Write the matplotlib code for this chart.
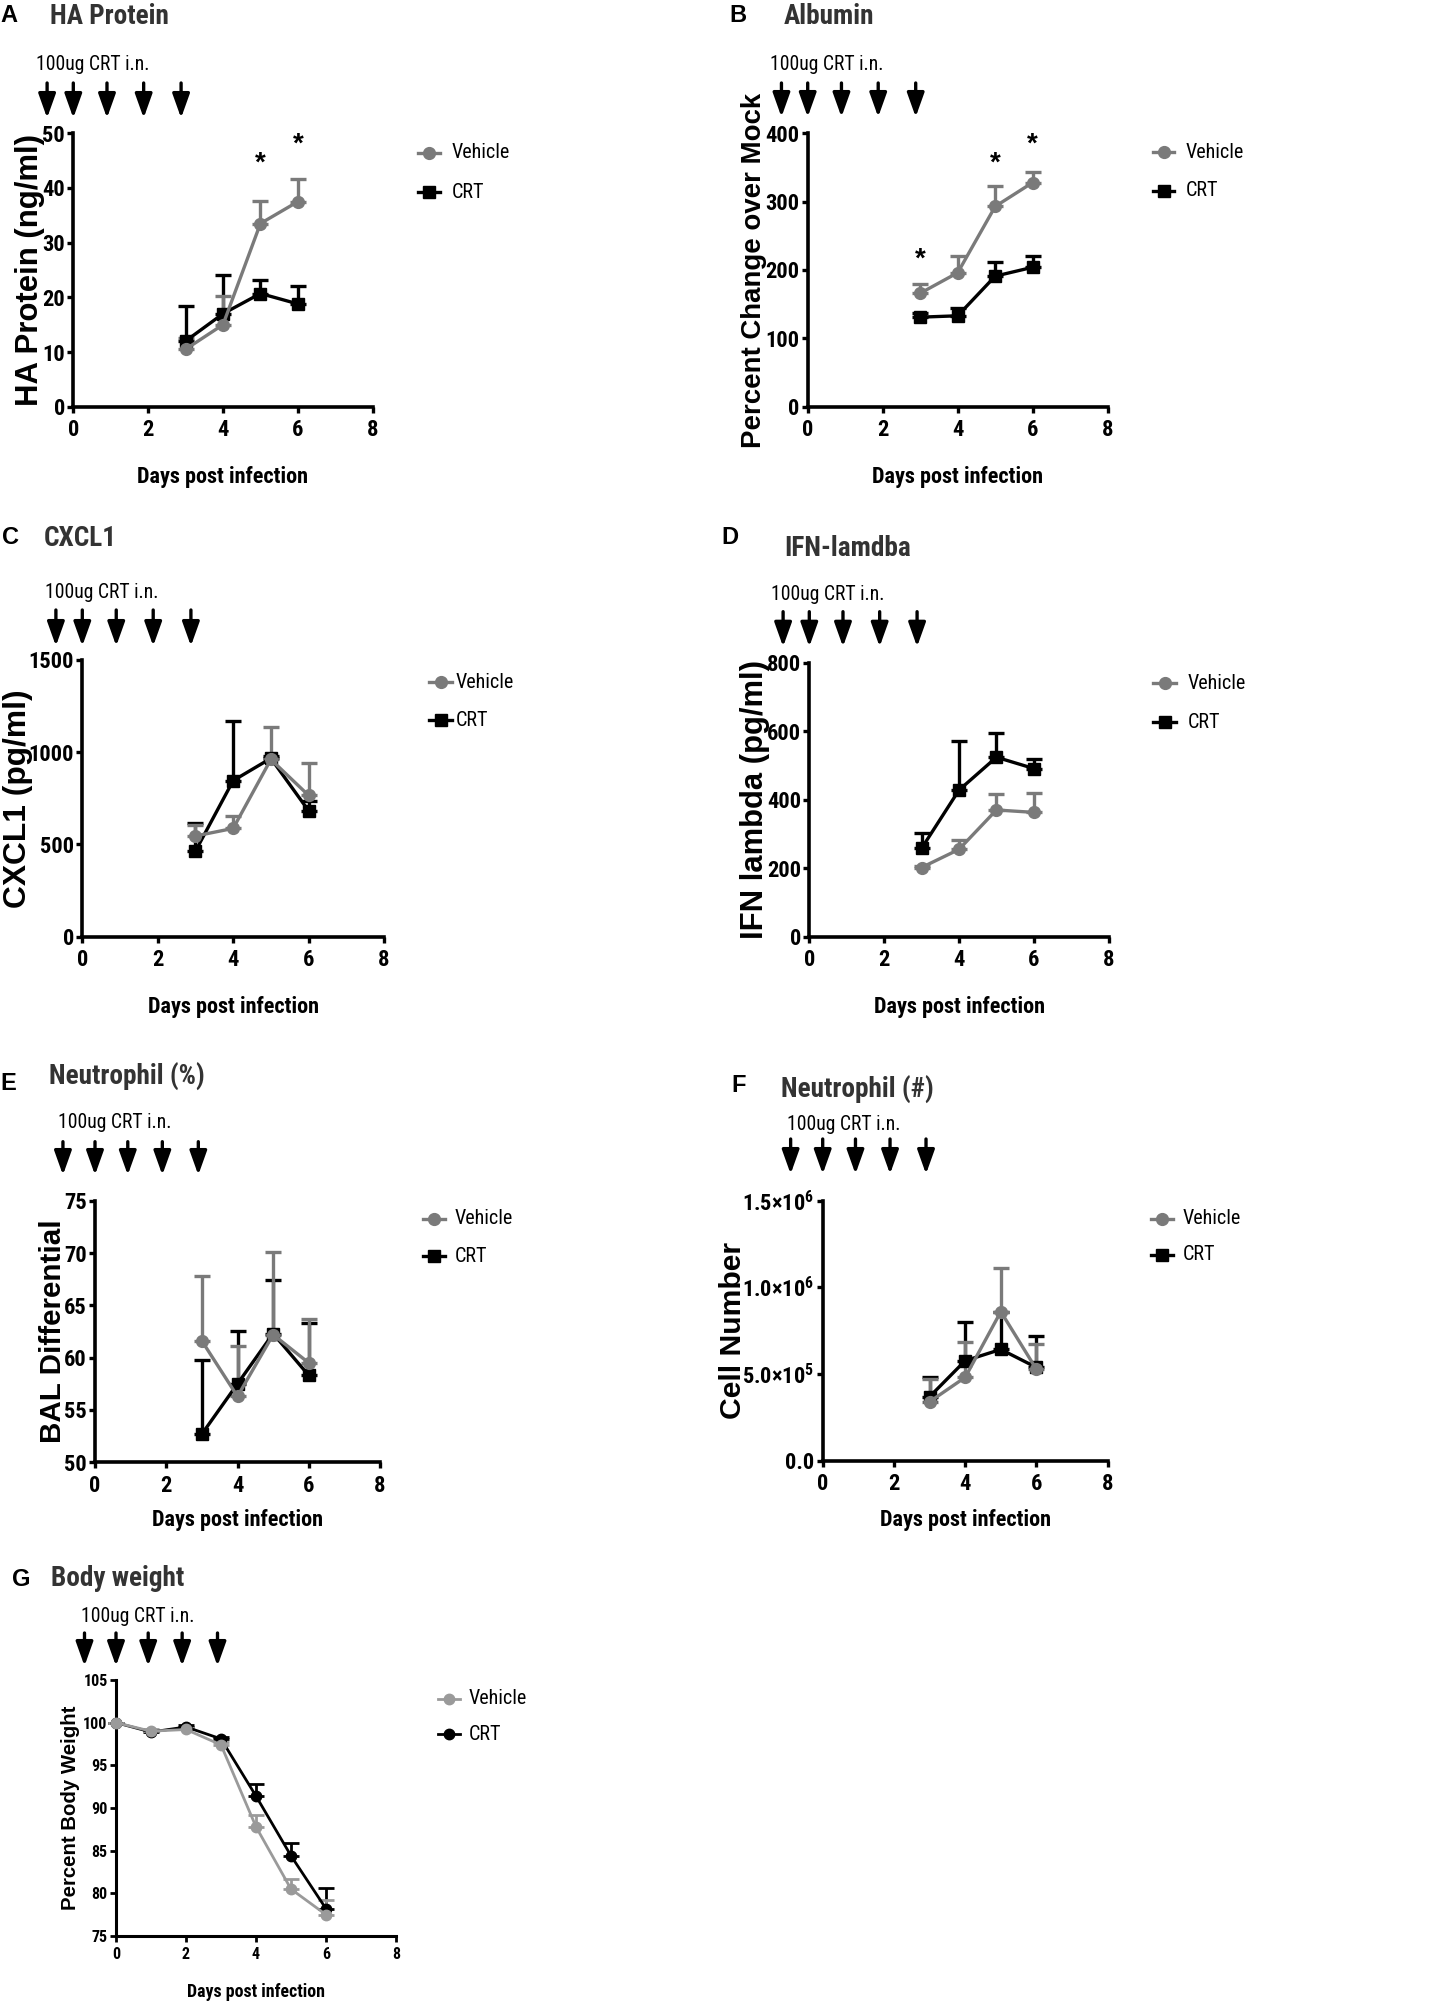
import matplotlib
matplotlib.use("Agg")
import matplotlib.pyplot as plt
from matplotlib.lines import Line2D
from matplotlib import font_manager
import numpy as np

W, H, DPI = 1432, 2004, 100

# the original uses a condensed Helvetica; use a narrow face if there is one
names = {f.name for f in font_manager.fontManager.ttflist}
NARROW = next((n for n in ['Liberation Sans Narrow', 'Arial Narrow', 'Roboto Condensed',
                           'Open Sans Condensed'] if n in names), None)
WIDE = ['Liberation Sans', 'DejaVu Sans']
BASE = ([NARROW] if NARROW else []) + WIDE
plt.rcParams['font.family'] = BASE
plt.rcParams['mathtext.fontset'] = 'custom'
plt.rcParams['mathtext.rm'] = BASE[0]
plt.rcParams['mathtext.bf'] = BASE[0] + ':bold'

# ---- data ----
days = [3, 4, 5, 6]
days_bw = [0, 1, 2, 3, 4, 5, 6]
dose_days_ad = [-0.7, 0, 0.9, 1.88, 2.88]
dose_days_eg = [-0.9, 0, 0.92, 1.89, 2.9]

ha_vehicle = [10.5, 15.0, 33.5, 37.5]
ha_vehicle_sem = [2.0, 5.2, 4.1, 4.2]
ha_crt = [12.0, 17.0, 20.7, 18.8]
ha_crt_sem = [6.5, 7.0, 2.5, 3.3]
ha_stars = [(5, 44.5), (6, 48.0)]

alb_vehicle = [166, 196, 293, 328]
alb_vehicle_sem = [13, 24, 30, 16]
alb_crt = [131, 133, 191, 204]
alb_crt_sem = [6, 12, 20, 16]
alb_stars = [(3, 215), (5, 355), (6, 383)]

cxcl1_vehicle = [546, 587, 961, 766]
cxcl1_vehicle_sem = [60, 67, 177, 174]
cxcl1_crt = [464, 846, 967, 683]
cxcl1_crt_sem = [150, 325, 10, 53]

ifn_vehicle = [202, 255, 370, 363]
ifn_vehicle_sem = [4, 27, 48, 57]
ifn_crt = [258, 428, 524, 491]
ifn_crt_sem = [44, 143, 72, 29]

neu_pct_vehicle = [61.6, 56.3, 62.2, 59.5]
neu_pct_vehicle_sem = [6.2, 4.8, 7.9, 4.2]
neu_pct_crt = [52.7, 57.5, 62.3, 58.3]
neu_pct_crt_sem = [7.1, 5.0, 5.1, 5.0]

neu_num_vehicle = [3.40e5, 4.81e5, 8.60e5, 5.27e5]
neu_num_vehicle_sem = [1.29e5, 2.06e5, 2.50e5, 1.46e5]
neu_num_crt = [3.69e5, 5.77e5, 6.42e5, 5.38e5]
neu_num_crt_sem = [1.12e5, 2.25e5, 2.15e5, 1.81e5]
neu_num_ticklabels = ['0.0', r'$\mathbf{5.0{\times}10^{5}}$', r'$\mathbf{1.0{\times}10^{6}}$',
                      r'$\mathbf{1.5{\times}10^{6}}$']

bw_vehicle = [100, 99.0, 99.2, 97.4, 87.8, 80.5, 77.5]
bw_vehicle_sem = [0, 0.2, 0.2, 0.3, 1.4, 1.2, 1.7]
bw_crt = [100, 98.9, 99.5, 98.1, 91.4, 84.4, 78.2]
bw_crt_sem = [0, 0.2, 0.2, 0.2, 1.4, 1.5, 2.4]

GRAY = '#7a7a7a'
LIGHT = '#9a9a9a'
TITLE_C = '#333333'

fig = plt.figure(figsize=(W / DPI, H / DPI), dpi=DPI)
renderer = fig.canvas.get_renderer()


def fit(text, target_px, weight='bold', family=None, size=20):
    # font size that makes `text` about target_px wide
    t = fig.text(0, 0, text, fontsize=size, fontweight=weight, family=family or BASE)
    w = t.get_window_extent(renderer).width
    t.remove()
    return size * target_px / w


def compromise(text, target_px, height_size, weight='bold', k=0.5):
    # the reference face is narrower than anything here: split the difference
    # between matching the width and matching the letter height
    return min(height_size, k * fit(text, target_px, weight) + (1 - k) * height_size)


FS_TICK = compromise('1500', 41, 17, k=0.35)
FS_TICK_S = compromise('105', 25, 11.5, k=0.35)
FS_XLAB = compromise('Days post infection', 183, 16)
FS_XLAB_S = compromise('Days post infection', 137, 13)
FS_TITLE = compromise('HA Protein', 117, 20)
FS_DOSE = compromise('100ug CRT i.n.', 107, 15, weight='normal')
FS_LEG = compromise('Vehicle', 52, 16, weight='normal')


def fx(px):
    return px / W


def fy(py):
    return 1 - py / H


def draw_panel(p):
    x0, x1, yt, yb = p['box']
    ax = fig.add_axes([fx(x0), fy(yb), (x1 - x0) / W, (yb - yt) / H])
    big = p.get('big', True)
    lw = 2.4 if big else 2.0
    ms = 8.5 if big else 7.5

    for (x, y, e), col, mk in p['series']:
        ax.errorbar(x, y, yerr=[np.zeros(len(e)), e], color=col, marker=mk,
                    ms=ms, lw=lw, elinewidth=lw, capsize=6,
                    capthick=lw, clip_on=False, zorder=3)

    ax.set_xlim(0, 8)
    ax.set_xticks([0, 2, 4, 6, 8])
    ax.set_ylim(*p['ylim'])
    ax.set_yticks(p['yticks'])
    if 'yticklabels' in p:
        ax.set_yticklabels(p['yticklabels'])
    for s in ['top', 'right']:
        ax.spines[s].set_visible(False)
    for s in ['left', 'bottom']:
        ax.spines[s].set_linewidth(2.6 if big else 2.2)
    ax.tick_params(direction='out', length=4, width=2.4 if big else 2.0,
                   labelsize=FS_TICK if big else FS_TICK_S)
    ax.tick_params(axis='x', pad=5 if big else 4)
    ax.tick_params(axis='y', pad=2)
    for t in ax.get_xticklabels() + ax.get_yticklabels():
        t.set_fontweight('bold')

    ax.set_xlabel('Days post infection', fontsize=FS_XLAB if big else FS_XLAB_S, fontweight='bold')
    ax.xaxis.label.set_va('center')
    ax.xaxis.set_label_coords(0.5, (yb - p['xlabel_y']) / (yb - yt))
    ax.set_ylabel(p['ylabel'], fontsize=fit(p['ylabel'], p['ylabel_w'], family=WIDE),
                  fontweight='bold', family=WIDE)
    ax.yaxis.label.set_va('center')
    ax.yaxis.set_label_coords((p['ylabel_x'] - x0) / (x1 - x0), 0.5)

    # dosing arrows
    at, ab = p['arrow']
    ftop = (yb - at) / (yb - yt)
    ftip = (yb - ab) / (yb - yt)
    for d in p['dose']:
        ax.annotate('', xy=(d, ftip), xytext=(d, ftop), xycoords=ax.get_xaxis_transform(),
                    arrowprops=dict(arrowstyle='-|>,head_length=0.7,head_width=0.25',
                                    color='black', lw=2.4, mutation_scale=21,
                                    shrinkA=0, shrinkB=0),
                    annotation_clip=False)
    dx, dy = p['dose_text']
    fig.text(fx(dx), fy(dy), '100ug CRT i.n.', fontsize=FS_DOSE, ha='left', va='center')

    for sx, sy in p.get('stars', []):
        ax.text(sx, sy, '*', fontsize=20, fontweight='bold', ha='center', va='center', family=WIDE)

    # panel letter and title
    lx, ly = p['letter']
    fig.text(fx(lx), fy(ly), p['tag'], fontsize=17, fontweight='bold', ha='left', va='center',
             family=WIDE)
    tx, ty = p['title_pos']
    fig.text(fx(tx), fy(ty), p['title'], fontsize=FS_TITLE, fontweight='bold',
             color=TITLE_C, ha='left', va='center')

    # legend
    lx0, lx1, ltx, ly1, ly2 = p['legend']
    for (key, col, mk), lab, yy in zip(p['series_legend'], ['Vehicle', 'CRT'], [ly1, ly2]):
        fig.add_artist(Line2D([fx(lx0), fx((lx0 + lx1) / 2), fx(lx1)], [fy(yy)] * 3,
                              color=col, lw=lw, marker=mk, ms=ms, markevery=[1]))
        fig.text(fx(ltx), fy(yy), lab, fontsize=FS_LEG, ha='left', va='center')
    return ax


panels = [
    dict(tag='A', title='HA Protein', box=(73.3, 372.7, 133.3, 406.7), letter=(0, 16), title_pos=(50, 16),
         arrow=(83, 118), dose=dose_days_ad, dose_text=(36, 65), legend=(418, 440, 452, 153, 192),
         xlabel_y=477, ylabel_x=30, ylabel='HA Protein (ng/ml)', ylabel_w=272,
         ylim=(0, 50), yticks=[0, 10, 20, 30, 40, 50],
         series=[((days, ha_crt, ha_crt_sem), 'black', 's'), ((days, ha_vehicle, ha_vehicle_sem), GRAY, 'o')],
         stars=ha_stars),
    dict(tag='B', title='Albumin', box=(807.7, 1107.7, 133.3, 406.7), letter=(729, 16), title_pos=(784, 16),
         arrow=(83, 117), dose=dose_days_ad, dose_text=(770, 65), legend=(1153, 1174, 1186, 152, 191),
         xlabel_y=477, ylabel_x=754, ylabel='Percent Change over Mock', ylabel_w=355,
         ylim=(0, 400), yticks=[0, 100, 200, 300, 400],
         series=[((days, alb_crt, alb_crt_sem), 'black', 's'), ((days, alb_vehicle, alb_vehicle_sem), GRAY, 'o')],
         stars=alb_stars),
    dict(tag='C', title='CXCL1', box=(82.3, 384, 660, 936.7), letter=(2, 537), title_pos=(44, 539),
         arrow=(610, 646), dose=dose_days_ad, dose_text=(45, 592), legend=(429, 452, 456, 682, 720),
         xlabel_y=1007, ylabel_x=18, ylabel='CXCL1 (pg/ml)', ylabel_w=218,
         ylim=(0, 1500), yticks=[0, 500, 1000, 1500],
         series=[((days, cxcl1_crt, cxcl1_crt_sem), 'black', 's'),
                 ((days, cxcl1_vehicle, cxcl1_vehicle_sem), GRAY, 'o')]),
    dict(tag='D', title='IFN-lamdba', box=(809.3, 1108.7, 662.7, 936.7), letter=(721, 537), title_pos=(784, 548),
         arrow=(611.7, 646.7), dose=dose_days_ad, dose_text=(771, 594), legend=(1153, 1176, 1188, 683, 722),
         xlabel_y=1007, ylabel_x=755, ylabel='IFN lambda (pg/ml)', ylabel_w=278,
         ylim=(0, 800), yticks=[0, 200, 400, 600, 800],
         series=[((days, ifn_vehicle, ifn_vehicle_sem), GRAY, 'o'), ((days, ifn_crt, ifn_crt_sem), 'black', 's')]),
    dict(tag='E', title='Neutrophil (%)', box=(95, 380, 1200.7, 1462.3), letter=(0, 1084), title_pos=(49, 1077),
         arrow=(1141.7, 1175), dose=dose_days_eg, dose_text=(58, 1123), legend=(423, 445, 455, 1219, 1256),
         xlabel_y=1520, ylabel_x=53, ylabel='BAL Differential', ylabel_w=223,
         ylim=(50, 75), yticks=[50, 55, 60, 65, 70, 75],
         series=[((days, neu_pct_crt, neu_pct_crt_sem), 'black', 's'),
                 ((days, neu_pct_vehicle, neu_pct_vehicle_sem), GRAY, 'o')]),
    dict(tag='F', title='Neutrophil (#)', box=(822.7, 1107.7, 1200.7, 1460.7), letter=(731, 1086),
         title_pos=(781, 1090), arrow=(1139, 1174), dose=dose_days_eg, dose_text=(787, 1124),
         legend=(1151, 1173, 1183, 1219, 1255), xlabel_y=1520, ylabel_x=733, ylabel='Cell Number',
         ylabel_w=177, ylim=(0, 1.5e6), yticks=[0, 5e5, 1e6, 1.5e6],
         yticklabels=neu_num_ticklabels,
         series=[((days, neu_num_crt, neu_num_crt_sem), 'black', 's'),
                 ((days, neu_num_vehicle, neu_num_vehicle_sem), GRAY, 'o')]),
    dict(tag='G', title='Body weight', box=(116, 396, 1680, 1936), letter=(12, 1579), title_pos=(51, 1579),
         arrow=(1633, 1666), dose=dose_days_eg, dose_text=(81, 1617), legend=(438, 460, 469, 1699, 1734),
         xlabel_y=1992, ylabel_x=71, ylabel='Percent Body Weight', ylabel_w=205, big=False,
         ylim=(75, 105), yticks=[75, 80, 85, 90, 95, 100, 105],
         series=[((days_bw, bw_crt, bw_crt_sem), 'black', 'o'), ((days_bw, bw_vehicle, bw_vehicle_sem), LIGHT, 'o')]),
]

for p in panels:
    # legend order is always Vehicle then CRT
    veh = [s for s in p['series'] if s[1] != 'black'][0]
    crt = [s for s in p['series'] if s[1] == 'black'][0]
    p['series_legend'] = [veh, crt]
    draw_panel(p)

fig.savefig('out.png', dpi=DPI)
